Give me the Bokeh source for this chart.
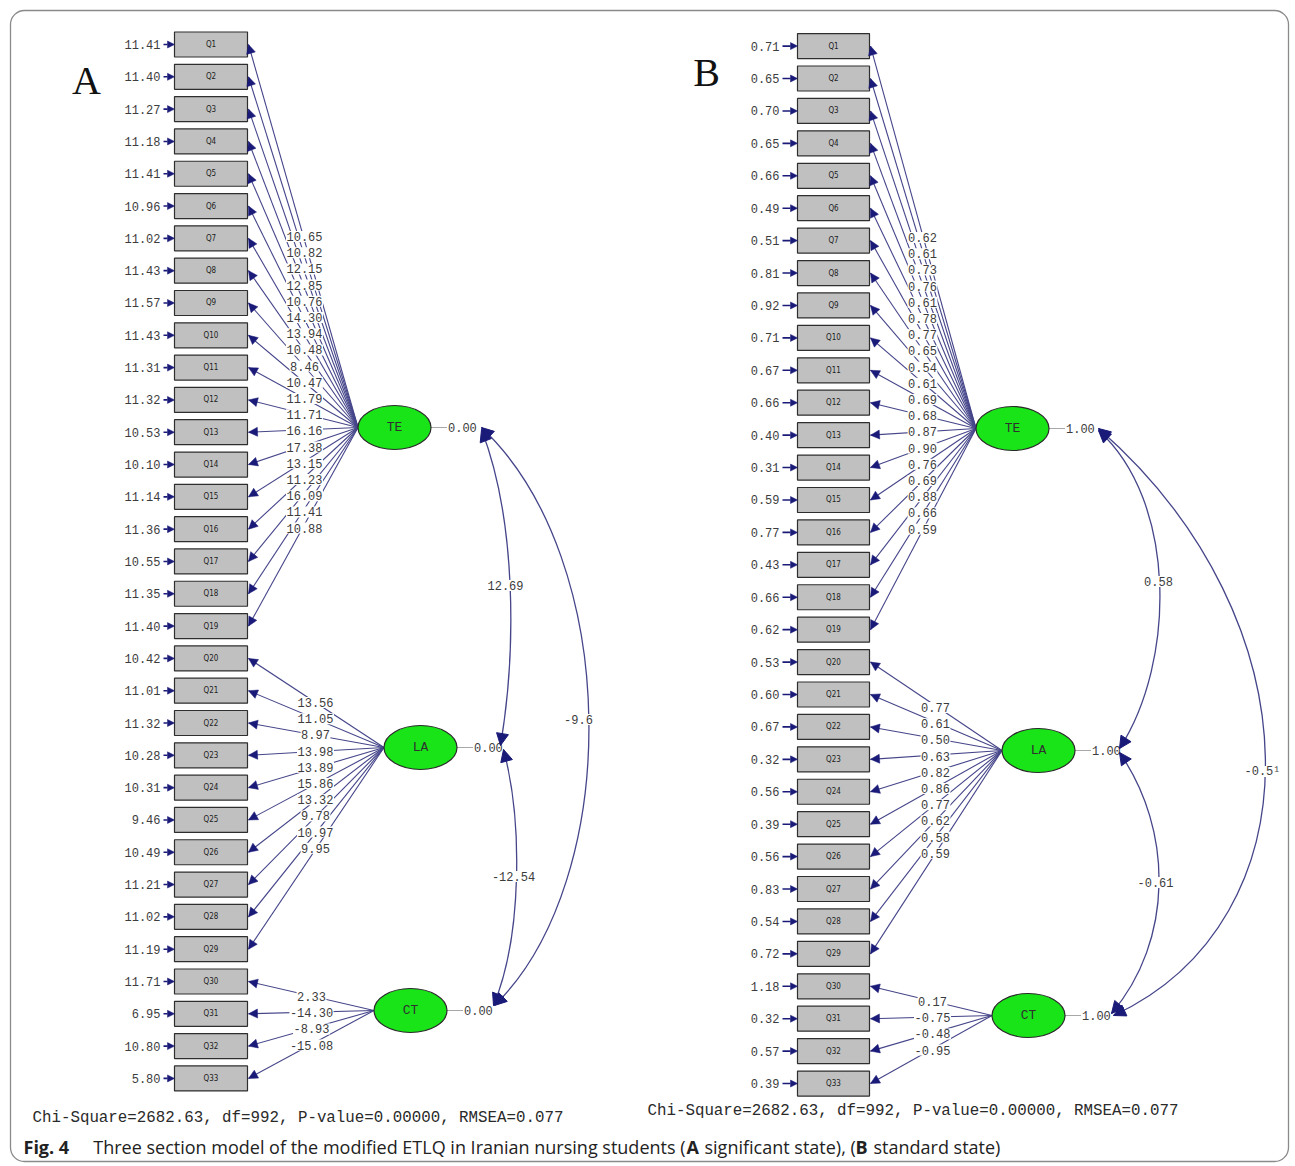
import numpy as np
from bokeh.plotting import figure
from bokeh.models import Range1d, Arrow, NormalHead, ColumnDataSource
from bokeh.core.properties import value
from bokeh.embed import file_html
from bokeh.resources import INLINE

# ---------------- data ----------------
items = [f"Q{i}" for i in range(1, 34)]
factors = ["TE", "LA", "CT"]
items_per_factor = [19, 10, 4]

# Panel A (significant state: t-values)
errors_A = [11.41, 11.40, 11.27, 11.18, 11.41, 10.96, 11.02, 11.43, 11.57, 11.43,
            11.31, 11.32, 10.53, 10.10, 11.14, 11.36, 10.55, 11.35, 11.40,
            10.42, 11.01, 11.32, 10.28, 10.31, 9.46, 10.49, 11.21, 11.02, 11.19,
            11.71, 6.95, 10.80, 5.80]
loadings_A_TE = [10.65, 10.82, 12.15, 12.85, 10.76, 14.30, 13.94, 10.48, 8.46, 10.47,
                 11.79, 11.71, 16.16, 17.38, 13.15, 11.23, 16.09, 11.41, 10.88]
loadings_A_LA = [13.56, 11.05, 8.97, 13.98, 13.89, 15.86, 13.32, 9.78, 10.97, 9.95]
loadings_A_CT = [2.33, -14.30, -8.93, -15.08]
factor_var_A = [0.00, 0.00, 0.00]
cov_labels_A = ["12.69", "-12.54", "-9.6"]          # TE-LA, LA-CT, TE-CT

# Panel B (standard state: standardized)
errors_B = [0.71, 0.65, 0.70, 0.65, 0.66, 0.49, 0.51, 0.81, 0.92, 0.71,
            0.67, 0.66, 0.40, 0.31, 0.59, 0.77, 0.43, 0.66, 0.62,
            0.53, 0.60, 0.67, 0.32, 0.56, 0.39, 0.56, 0.83, 0.54, 0.72,
            1.18, 0.32, 0.57, 0.39]
loadings_B_TE = [0.62, 0.61, 0.73, 0.76, 0.61, 0.78, 0.77, 0.65, 0.54, 0.61,
                 0.69, 0.68, 0.87, 0.90, 0.76, 0.69, 0.88, 0.66, 0.59]
loadings_B_LA = [0.77, 0.61, 0.50, 0.63, 0.82, 0.86, 0.77, 0.62, 0.58, 0.59]
loadings_B_CT = [0.17, -0.75, -0.48, -0.95]
factor_var_B = [1.00, 1.00, 1.00]
cov_labels_B = ["0.58", "-0.61", "-0.5\u00b9"]

fit_text = "Chi-Square=2682.63, df=992, P-value=0.00000, RMSEA=0.077"
caption_parts = ["Fig. 4",
                 "Three section model of the modified ETLQ in Iranian nursing students (",
                 "A", "significant state), (", "B", "standard state)"]
caption_styles = ["bold", "normal", "bold", "normal", "bold", "normal"]

# ---------------- layout (pixel space) ----------------
W, H = 1290, 1163
NAVY = "#1a1a78"
LINE = "#45458a"
TXT = "#3c3c3c"
MONO = value("Liberation Mono")
CHW = 7.2  # char width of 12px mono

panels = [
    dict(name="A", err=errors_A, load=[loadings_A_TE, loadings_A_LA, loadings_A_CT],
         var=factor_var_A, cov=cov_labels_A,
         bx0=174, bx1=247, y0=44.0, dy=32.31, err_x=160,
         lat=[(394, 427), (420, 747), (410, 1010)],
         lab_x=[304, 315, 311], lab_y0=[236, 702, 996],
         curves=[((481, 429), (516, 520), (516, 650), (500, 745), (505, 585)),
                 ((503, 749), (522, 820), (522, 935), (493, 1005), (513, 876)),
                 ((481, 427), (622, 560), (622, 880), (494, 1005), (578, 719))],
         letter=(86, 80), chi=(32, 1117)),
    dict(name="B", err=errors_B, load=[loadings_B_TE, loadings_B_LA, loadings_B_CT],
         var=factor_var_B, cov=cov_labels_B,
         bx0=797, bx1=869, y0=45.6, dy=32.42, err_x=779,
         lat=[(1012, 428), (1038, 750), (1028, 1015)],
         lab_x=[922, 935, 932], lab_y0=[237, 707, 1001],
         curves=[((1098, 430), (1176, 500), (1176, 660), (1119, 748), (1158, 581)),
                 ((1119, 752), (1173, 830), (1173, 940), (1111, 1013), (1155, 882)),
                 ((1098, 428), (1318, 620), (1318, 920), (1113, 1015), (1262, 771))],
         letter=(706, 72), chi=(647, 1110)),
]

p = figure(width=W, height=H, x_range=Range1d(0, W), y_range=Range1d(H, 0),
           output_backend="svg", toolbar_location=None, min_border=0)
p.axis.visible = False
p.grid.visible = False
p.outline_line_color = None
p.background_fill_color = "white"

# outer frame
p.quad(left=[10], right=[1288], top=[10], bottom=[1161], fill_color=None,
       line_color="#8a8a8a", line_width=1.3, border_radius=14)

EW, EH = 73, 44


def label_with_bg(xs, ys, texts, align="center"):
    widths = [len(t) * CHW + 1 for t in texts]
    p.rect(x=xs, y=ys, width=widths, height=11, fill_color="white", line_color=None)
    p.text(x=xs, y=ys, text=texts, text_align=align, text_baseline="middle",
           text_font=MONO, text_font_size="12px", text_color=TXT)


for pn in panels:
    ys = pn["y0"] + np.arange(len(items)) * pn["dy"]
    bw = pn["bx1"] - pn["bx0"]
    bcx = (pn["bx0"] + pn["bx1"]) / 2

    # loading paths as glyph segments, heads as arrow annotations
    start = 0
    seg = dict(x0=[], y0=[], x1=[], y1=[])
    heads = dict(xs=[], ys=[], xe=[], ye=[])
    lab_x, lab_y, lab_t = [], [], []
    for f, (cnt, loads) in enumerate(zip(items_per_factor, pn["load"])):
        cx, cy = pn["lat"][f]
        for k, v in enumerate(loads):
            yb = ys[start + k]
            x0, y0 = cx - EW / 2, cy
            x1, y1 = pn["bx1"] + 1, yb
            seg["x0"].append(x0); seg["y0"].append(y0)
            seg["x1"].append(x1); seg["y1"].append(y1)
            d = np.array([x0 - x1, y0 - y1]); d /= np.linalg.norm(d)
            heads["xs"].append(x1 + d[0] * 5); heads["ys"].append(y1 + d[1] * 5)
            heads["xe"].append(x1); heads["ye"].append(y1)
            lab_x.append(pn["lab_x"][f])
            lab_y.append(pn["lab_y0"][f] + k * 16.2)
            lab_t.append(f"{v:.2f}")
        start += cnt
    p.segment(x0="x0", y0="y0", x1="x1", y1="y1", source=ColumnDataSource(seg),
              line_color=LINE, line_width=1.1)
    p.add_layout(Arrow(end=NormalHead(size=9, fill_color=NAVY, line_color=NAVY, line_width=0.5),
                       x_start="xs", y_start="ys", x_end="xe", y_end="ye", line_alpha=0,
                       source=ColumnDataSource(heads)))
    label_with_bg(lab_x, lab_y, lab_t)

    # boxes
    p.rect(x=[bcx] * len(items), y=ys, width=bw, height=25, fill_color="#c0c0c0",
           line_color="#2e2e2e", line_width=1.2)
    p.text(x=[bcx] * len(items), y=ys, text=items, text_align="center", text_baseline="middle",
           text_font=value("DejaVu Sans Condensed"), text_font_size="8px", text_color="#202020")

    # error arrows + values
    esrc = ColumnDataSource(dict(xs=[pn["err_x"] + 3] * len(items), ys=list(ys),
                                 xe=[pn["bx0"]] * len(items), ye=list(ys)))
    p.add_layout(Arrow(end=NormalHead(size=7, fill_color=NAVY, line_color=NAVY, line_width=0.5),
                       x_start="xs", y_start="ys", x_end="xe", y_end="ye",
                       line_color=NAVY, line_width=1.6, source=esrc))
    p.text(x=[pn["err_x"]] * len(items), y=ys, text=[f"{v:.2f}" for v in pn["err"]],
           text_align="right", text_baseline="middle", text_font=MONO,
           text_font_size="12px", text_color=TXT)

    # covariance curves
    for (s, c1, c2, e, lab), ltxt in zip(pn["curves"], pn["cov"]):
        p.bezier(x0=[s[0]], y0=[s[1]], x1=[e[0]], y1=[e[1]], cx0=[c1[0]], cy0=[c1[1]],
                 cx1=[c2[0]], cy1=[c2[1]], line_color=LINE, line_width=1.3)
        for tip, ctrl in ((s, c1), (e, c2)):
            d = np.array(ctrl, float) - np.array(tip, float)
            d /= np.linalg.norm(d)
            tail = np.array(tip, float) + d * 6
            p.add_layout(Arrow(end=NormalHead(size=12, fill_color=NAVY, line_color=NAVY),
                               x_start=tail[0], y_start=tail[1], x_end=tip[0], y_end=tip[1],
                               line_alpha=0))
        label_with_bg([lab[0]], [lab[1]], [ltxt])

    # latent ellipses
    for f, name in enumerate(factors):
        cx, cy = pn["lat"][f]
        p.segment(x0=[cx + EW / 2], y0=[cy], x1=[cx + EW / 2 + 16], y1=[cy],
                  line_color="#a8a8a8", line_width=1)
        p.text(x=[cx + EW / 2 + 17], y=[cy], text=[f"{pn['var'][f]:.2f}"], text_align="left",
               text_baseline="middle", text_font=MONO, text_font_size="12px", text_color=TXT)
    lx = [c[0] for c in pn["lat"]]
    ly = [c[1] for c in pn["lat"]]
    p.ellipse(x=lx, y=ly, width=EW, height=EH, fill_color="#18e418", line_color="#2a2a2a",
              line_width=1.2)
    p.text(x=lx, y=ly, text=factors, text_align="center", text_baseline="middle",
           text_font=MONO, text_font_size="13px", text_color="#303030")

    # panel letter and fit statistics
    p.text(x=[pn["letter"][0]], y=[pn["letter"][1]], text=[pn["name"]], text_align="center",
           text_baseline="middle", text_font=value("Liberation Serif"), text_font_size="40px",
           text_color="#111111")
    p.text(x=[pn["chi"][0]], y=[pn["chi"][1]], text=[fit_text], text_align="left",
           text_baseline="middle", text_font=MONO, text_font_size="15.8px", text_color="#2a2a2a")

# caption (mixed bold / regular pieces)
cap_x = [23, 685, 686, 704, 855, 873]
cap_align = ["left", "right", "left", "left", "left", "left"]
for txt, style, x, al in zip(caption_parts, caption_styles, cap_x, cap_align):
    p.text(x=[x], y=[1146], text=[txt], text_align=al, text_baseline="middle",
           text_font=value("Open Sans"), text_font_size="18px",
           text_font_style=style, text_color="#222222")

open("out.html", "w").write(file_html(p, INLINE))
